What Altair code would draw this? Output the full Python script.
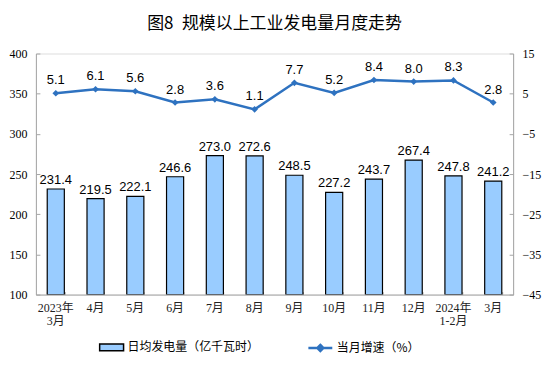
import altair as alt
import pandas as pd

months = ["2023年|3月", "4月", "5月", "6月", "7月", "8月", "9月", "10月",
          "11月", "12月", "2024年|1-2月", "3月"]
daily_gen = [231.4, 219.5, 222.1, 246.6, 273.0, 272.6, 248.5, 227.2,
             243.7, 267.4, 247.8, 241.2]
growth = [5.1, 6.1, 5.6, 2.8, 3.6, 1.1, 7.7, 5.2, 8.4, 8.0, 8.3, 2.8]
left_ticks = [100, 150, 200, 250, 300, 350, 400]
right_ticks = [-45, -35, -25, -15, -5, 5, 15]
bar_name = "日均发电量（亿千瓦时）"
line_name = "当月增速（%）"

df = pd.DataFrame({"month": months, "gen": daily_gen, "growth": growth,
                   "s1": bar_name, "s2": line_name})

BLUE = "#2E72C0"
BARFILL = "#99CCFF"
GRAY = "#A6A6A6"
SERIF = "Liberation Serif, Noto Sans CJK SC"
SANS = "Liberation Sans, Arial"
CJK = "Noto Sans CJK SC"

xscale = alt.Scale(paddingInner=0.57, paddingOuter=0.285)
xaxis = alt.Axis(labelExpr="split(datum.label, '|')", labelAngle=0, title=None,
                 domainColor=GRAY, ticks=False, labelFont=SERIF, labelFontSize=12,
                 labelColor="#222222", labelPadding=8, labelLineHeight=13,
                 labelBaseline="top", orient="bottom")
X = alt.X("month:N", sort=months, scale=xscale, axis=xaxis)
Xn = alt.X("month:N", sort=months, scale=xscale, axis=None)

yl_scale = alt.Scale(domain=[100, 400], nice=False, zero=False)
yr_scale = alt.Scale(domain=[-45, 15], nice=False, zero=False)

base = alt.Chart(df)

bars = base.mark_bar(stroke="black", strokeWidth=1.2, clip=True).encode(
    x=X,
    y=alt.Y("gen:Q", scale=yl_scale,
            axis=alt.Axis(values=left_ticks, title=None, grid=False, ticks=False,
                          domainColor=GRAY, labelFont=SERIF, labelFontSize=12,
                          labelColor="black", labelPadding=9, orient="left")),
    y2=alt.datum(100),
    fill=alt.Fill("s1:N", scale=alt.Scale(domain=[bar_name], range=[BARFILL]),
                  legend=alt.Legend(title=None, orient="none", legendX=63, legendY=282,
                                    symbolType="M-1,-0.28H1V0.28H-1Z", symbolSize=576,
                                    symbolStrokeColor="black", symbolStrokeWidth=1.5,
                                    labelFont=CJK, labelFontSize=12, labelColor="black",
                                    labelOffset=3)),
)
bar_text = base.mark_text(baseline="bottom", dy=-2, font=SANS, fontSize=13,
                          color="black").encode(
    x=X,
    y=alt.Y("gen:Q", scale=yl_scale),
    text=alt.Text("gen:Q", format=".1f"),
)
bar_layer = alt.layer(bars, bar_text)

line = base.mark_line(strokeWidth=2.5).encode(
    x=Xn,
    y=alt.Y("growth:Q", scale=yr_scale,
            axis=alt.Axis(values=right_ticks, title=None, grid=False, ticks=False,
                          domainColor=GRAY, labelFont=SERIF, labelFontSize=12,
                          labelColor="black", labelPadding=9, orient="right")),
    stroke=alt.Stroke("s2:N", scale=alt.Scale(domain=[line_name], range=[BLUE]),
                      legend=alt.Legend(title=None, orient="none", legendX=272, legendY=282,
                                        symbolType="M-1,0H1M0,-0.25L0.25,0L0,0.25L-0.25,0Z",
                                        symbolSize=576, symbolStrokeWidth=2.5,
                                        symbolFillColor=BLUE,
                                        labelFont=CJK, labelFontSize=12, labelColor="black",
                                        labelOffset=3)),
)
pts = base.mark_point(shape="diamond", filled=True, size=45, color=BLUE, opacity=1).encode(
    x=Xn, y=alt.Y("growth:Q", scale=yr_scale))
line_text = base.mark_text(baseline="bottom", dy=-6, font=SANS, fontSize=13,
                           color="black").encode(
    x=Xn, y=alt.Y("growth:Q", scale=yr_scale),
    text=alt.Text("growth:Q", format=".1f"))
line_layer = alt.layer(line, pts, line_text)

# tick-only axes (inward ticks)
tick_left = base.mark_point(opacity=0).encode(
    x=alt.X("month:N", sort=months, scale=xscale,
            axis=alt.Axis(labels=False, domain=False, ticks=True, tickSize=3, offset=-3,
                          tickBand="extent", tickColor=GRAY, title=None, grid=False,
                          orient="bottom")),
    y=alt.Y("gen:Q", scale=yl_scale,
            axis=alt.Axis(values=left_ticks, labels=False, domain=False, ticks=True,
                          tickSize=4, offset=-4, tickColor=GRAY, title=None, grid=False,
                          orient="left")),
)
tick_right = base.mark_point(opacity=0).encode(
    x=Xn,
    y=alt.Y("growth:Q", scale=yr_scale,
            axis=alt.Axis(values=right_ticks, labels=False, domain=False, ticks=True,
                          tickSize=4, offset=-4, tickColor=GRAY, title=None, grid=False,
                          orient="right")),
)

chart = alt.layer(bar_layer, line_layer, tick_left, tick_right).resolve_scale(
    y="independent"
).resolve_axis(x="independent").properties(
    width=479, height=242,
    padding={"left": 1, "top": 6, "right": 5, "bottom": 5},
    title=alt.TitleParams("图8\u2002规模以上工业发电量月度走势", font=CJK, fontSize=17,
                          fontWeight="normal", color="black", anchor="middle", offset=15),
).configure_view(stroke=None).configure(background="white")

chart.save("out.html", embed_options={"renderer": "svg", "actions": False})
